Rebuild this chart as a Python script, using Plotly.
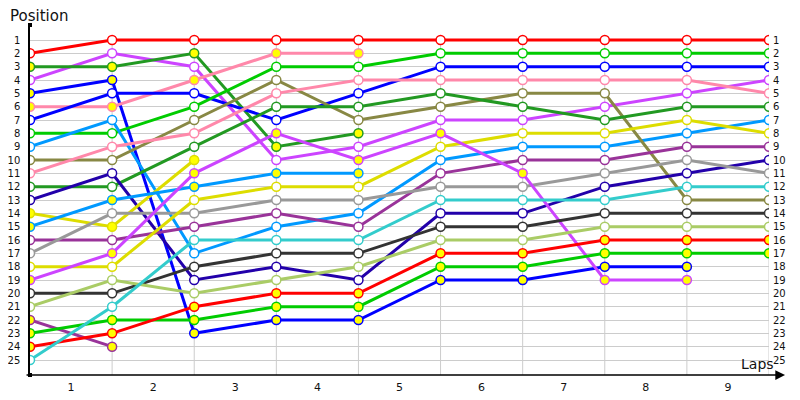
"""Lap chart: race position of each driver lap by lap."""

import plotly.graph_objects as go

# position at each lap mark (0 = start), list stops once the driver is out
red_a = [2, 1, 1, 1, 1, 1, 1, 1, 1, 1]
violet_a = [4, 2, 3, 10, 9, 7, 7, 6, 5, 4]
dkgreen_a = [3, 3, 2, 9, 8]
blue_a = [5, 4, 23, 22, 22, 19, 19, 18, 18]
pink_a = [6, 6, 4, 2, 2]
blue_b = [7, 5, 5, 7, 5, 3, 3, 3, 3, 3]
green_a = [8, 8, 6, 3, 3, 2, 2, 2, 2, 2]
ltblue_a = [9, 7, 17, 15, 14, 10, 9, 9, 8, 7]
olive = [10, 10, 7, 4, 7, 6, 5, 5, 13, 13]
pink_b = [11, 9, 8, 5, 4, 4, 4, 4, 4, 5]
dkgreen_b = [12, 12, 9, 6, 6, 5, 6, 7, 6, 6]
navy = [13, 11, 19, 18, 19, 14, 14, 12, 11, 10]
yellow_a = [14, 15, 10]
ltblue_b = [15, 13, 12, 11, 11]
purple_a = [16, 16, 15, 14, 15, 11, 10, 10, 9, 9]
grey = [17, 14, 14, 13, 13, 12, 12, 11, 10, 11]
yellow_b = [18, 18, 13, 12, 12, 9, 8, 8, 7, 8]
violet_b = [19, 17, 11, 8, 10, 8, 11, 19, 19]
black = [20, 20, 18, 17, 17, 15, 15, 14, 14, 14]
ylgreen = [21, 19, 20, 19, 18, 16, 16, 15, 15, 15]
purple_b = [22, 24]
green_b = [23, 22, 22, 21, 21, 18, 18, 17, 17, 17]
red_b = [24, 23, 21, 20, 20, 17, 17, 16, 16, 16]
cyan = [25, 21, 16, 16, 16, 13, 13, 13, 12, 12]

# (positions, line colour, yellow-filled markers?)
drivers = [
    (red_a, "#ff0000", False),
    (violet_a, "#cc44ff", False),
    (dkgreen_a, "#229922", True),
    (blue_a, "#0000ff", True),
    (pink_a, "#ff88aa", True),
    (blue_b, "#0000ff", False),
    (green_a, "#00cc00", False),
    (ltblue_a, "#0099ff", False),
    (olive, "#888844", False),
    (pink_b, "#ff88aa", False),
    (dkgreen_b, "#229922", False),
    (navy, "#2200aa", False),
    (yellow_a, "#dddd00", True),
    (ltblue_b, "#0099ff", True),
    (purple_a, "#993399", False),
    (grey, "#999999", False),
    (yellow_b, "#dddd00", False),
    (violet_b, "#cc44ff", True),
    (black, "#333333", False),
    (ylgreen, "#aacc66", False),
    (purple_b, "#993399", True),
    (green_b, "#00cc00", True),
    (red_b, "#ff0000", True),
    (cyan, "#33cccc", False),
]

positions = list(range(1, 26))
lap_labels = [str(i) for i in range(1, 10)]
n_marks = 10
y_top, y_bot = -0.125, 26.125

fig = go.Figure()

for pos, color, pitted in drivers:
    fig.add_trace(
        go.Scatter(
            x=list(range(len(pos))),
            y=pos,
            mode="lines+markers",
            line=dict(color=color, width=3),
            marker=dict(
                size=9,
                color="#ffff00" if pitted else "#ffffff",
                line=dict(color=color, width=1.5),
            ),
            showlegend=False,
        )
    )

# axis end dots
fig.add_trace(
    go.Scatter(
        x=[0, 0],
        y=[y_top, y_bot],
        mode="markers",
        marker=dict(symbol="square", size=4, color="black"),
        cliponaxis=False,
        showlegend=False,
    )
)
# dummy trace so the right-hand axis is drawn
fig.add_trace(go.Scatter(x=[0], y=[1], yaxis="y2", mode="markers", opacity=0, showlegend=False))

for k in range(1, n_marks):
    fig.add_shape(
        type="line", x0=k, x1=k, y0=1, y1=y_bot,
        line=dict(color="#cccccc", width=1), layer="below",
    )

fig.add_annotation(
    x=1.0217, y=0, xref="paper", yref="paper",
    ax=-760, ay=0, axref="pixel", ayref="pixel",
    text="", showarrow=True, arrowhead=2, arrowsize=1.3,
    arrowwidth=1.5, arrowcolor="black",
)
fig.add_annotation(
    x=-0.0298, y=1.0257, xref="paper", yref="paper", text="Position",
    showarrow=False, xanchor="left", yanchor="middle",
    font=dict(size=15, color="#111111"),
)
fig.add_annotation(
    x=0.9838, y=0.0314, xref="paper", yref="paper", text="Laps",
    showarrow=False, xanchor="center", yanchor="middle",
    font=dict(size=14, color="#111111"),
)

# page body has an 8px margin, so the figure is 8px smaller on each axis
fig.update_layout(
    width=792,
    height=392,
    margin=dict(l=22, r=31, t=17, b=25, autoexpand=False),
    paper_bgcolor="white",
    plot_bgcolor="white",
    font=dict(family="DejaVu Sans", size=10, color="#111111"),
    xaxis=dict(
        range=[0, n_marks - 1],
        tickvals=[i + 0.5 for i in range(n_marks - 1)],
        ticktext=lap_labels,
        showgrid=False,
        zeroline=False,
        showline=False,
        ticks="",
        tickfont=dict(size=11),
        ticklabelstandoff=4,
        automargin=False,
    ),
    yaxis=dict(
        range=[y_bot, y_top],
        tickvals=positions,
        ticktext=[str(p) for p in positions],
        showgrid=True,
        gridcolor="#cccccc",
        gridwidth=1,
        zeroline=False,
        showline=True,
        linecolor="black",
        linewidth=1.5,
        ticks="",
        ticklabelstandoff=6,
        automargin=False,
    ),
    yaxis2=dict(
        range=[y_bot, y_top],
        overlaying="y",
        side="right",
        tickvals=positions,
        ticktext=[str(p) for p in positions],
        showgrid=False,
        zeroline=False,
        ticks="",
        ticklabelstandoff=3,
        automargin=False,
    ),
)

fig.write_html("out.html")
